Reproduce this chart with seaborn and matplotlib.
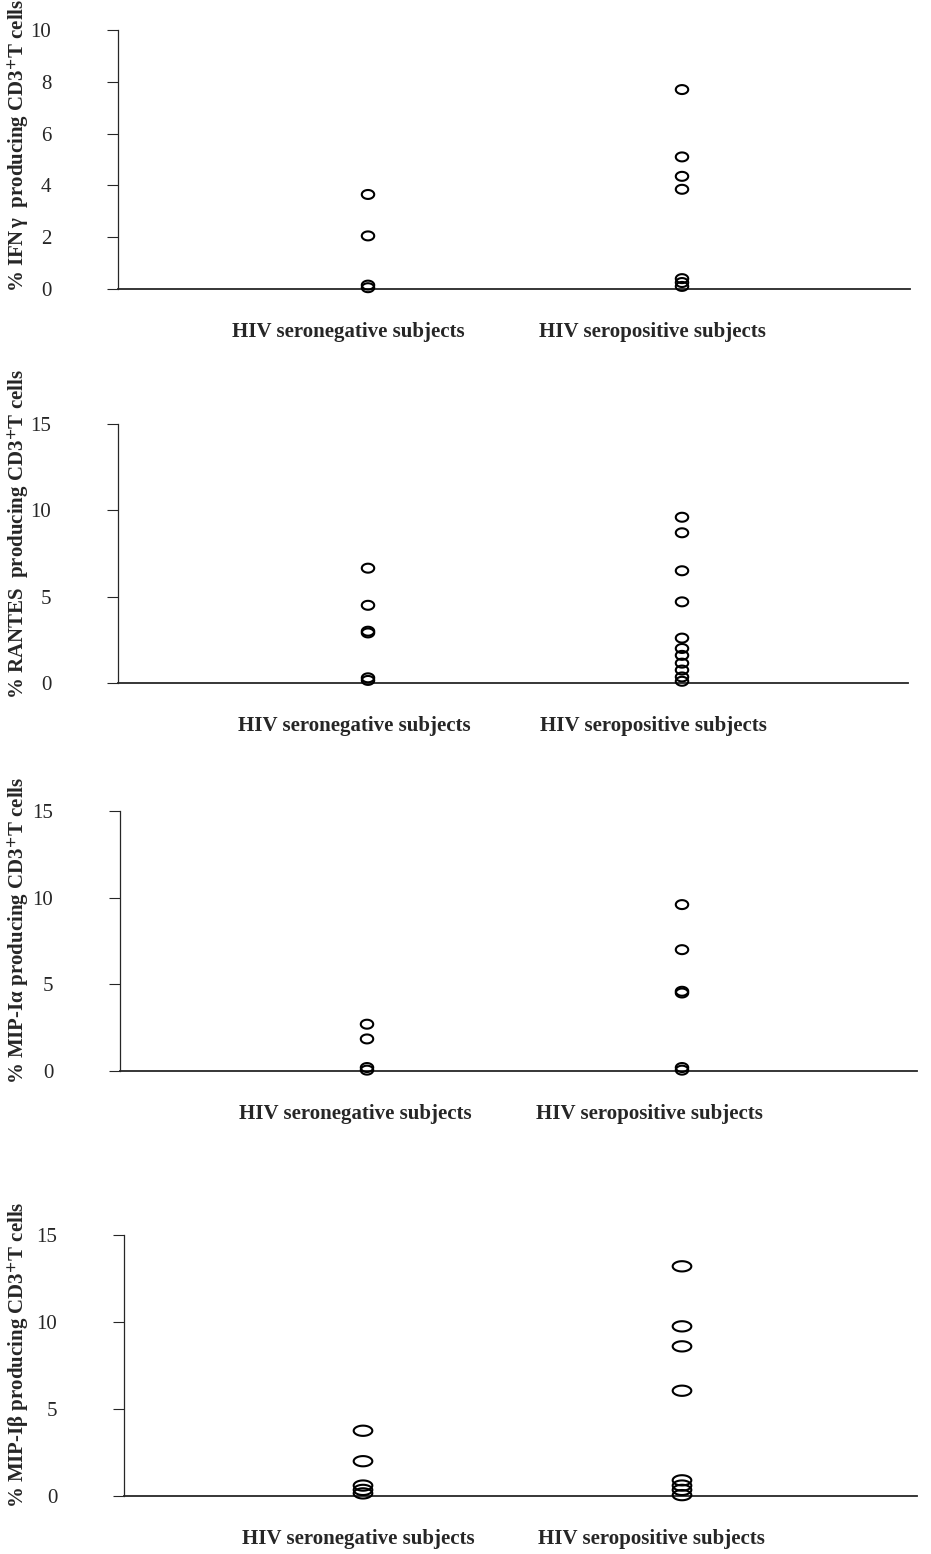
import numpy as np
import matplotlib
matplotlib.use("Agg")
import matplotlib.pyplot as plt
from matplotlib.path import Path
import seaborn as sns

# values (% producing CD3+ T cells)
groups = ["HIV seronegative subjects", "HIV seropositive subjects"]

ifng_neg = [3.65, 2.05, 0.15, 0.05]
ifng_pos = [7.7, 5.1, 4.35, 3.85, 0.4, 0.25, 0.1]
rantes_neg = [6.65, 4.5, 3.0, 2.9, 0.3, 0.15]
rantes_pos = [9.6, 8.7, 6.5, 4.7, 2.6, 2.0, 1.6, 1.15, 0.75, 0.35, 0.1]
mip1a_neg = [2.7, 1.85, 0.2, 0.05]
mip1a_pos = [9.6, 7.0, 4.6, 4.5, 0.2, 0.05]
mip1b_neg = [3.75, 2.0, 0.6, 0.35, 0.15]
mip1b_pos = [13.2, 9.75, 8.6, 6.05, 0.9, 0.6, 0.35, 0.05]

ylabels = [r"% IFN$\,$γ  producing CD3$^{+}$T cells",
           r"% RANTES  producing CD3$^{+}$T cells",
           r"% MIP-Iα producing CD3$^{+}$T cells",
           r"% MIP-Iβ producing CD3$^{+}$T cells"]
yticks = [[0, 2, 4, 6, 8, 10], [0, 5, 10, 15], [0, 5, 10, 15], [0, 5, 10, 15]]
panels = [(ifng_neg, ifng_pos), (rantes_neg, rantes_pos),
          (mip1a_neg, mip1a_pos), (mip1b_neg, mip1b_pos)]

sns.set_style("ticks")
plt.rcParams['font.family'] = ['Liberation Serif', 'DejaVu Serif']
plt.rcParams['mathtext.fontset'] = 'stix'
plt.rcParams['mathtext.default'] = 'bf'


def ellipse(ry):
    t = np.linspace(0, 2 * np.pi, 60)
    return Path(np.column_stack([np.cos(t), ry * np.sin(t)]), closed=True)


W, H = 931, 1554
# axes rectangles in pixels: left, top, right, bottom
rects = [(118, 30, 910, 289), (118, 424, 908, 683),
         (120, 811, 917, 1071), (124, 1235, 917, 1496)]
xpos = [(368, 682), (368, 682), (367, 682), (363, 682)]
# centre of the group labels relative to the points (pixels)
lab_off = [(-20, -30), (-14, -29), (-12, -33), (-5, -31)]
ylab_y = [0.556, 0.575, 0.54, 0.54]
msize = [80, 80, 80, 180]
mshape = [ellipse(0.72), ellipse(0.72), ellipse(0.72), ellipse(0.55)]

fig = plt.figure(figsize=(W / 100, H / 100), dpi=100)

for i, (neg, pos) in enumerate(panels):
    l, t, r, b = rects[i]
    ax = fig.add_axes([l / W, 1 - b / H, (r - l) / W, (b - t) / H])
    x = [0] * len(neg) + [1] * len(pos)
    y = list(neg) + list(pos)
    sns.scatterplot(x=x, y=y, ax=ax, marker=mshape[i], s=msize[i],
                    facecolor="none", edgecolor="black", linewidth=1.5,
                    legend=False, zorder=3, clip_on=False)
    # map categories onto the pixel positions of the reference
    unit = xpos[i][1] - xpos[i][0]
    ax.set_xlim(-(xpos[i][0] - l) / unit, (r - xpos[i][0]) / unit)
    ax.set_ylim(0, yticks[i][-1])
    ax.set_yticks(yticks[i])
    ax.set_xticks([lab_off[i][0] / unit, 1 + lab_off[i][1] / unit])
    ax.set_xticklabels(groups, fontsize=15, fontweight="bold")
    ax.tick_params(axis="x", length=0, pad=24)
    ax.tick_params(axis="y", direction="out", length=8, width=0.8,
                   labelsize=15, pad=40)
    sns.despine(ax=ax)
    ax.spines["left"].set_linewidth(0.9)
    ax.spines["bottom"].set_linewidth(1.3)
    ax.set_ylabel(ylabels[i], fontsize=15, fontweight="bold")
    ax.yaxis.set_label_coords(-(l - 31) / (r - l), ylab_y[i])

fig.savefig("out.png", dpi=100)
